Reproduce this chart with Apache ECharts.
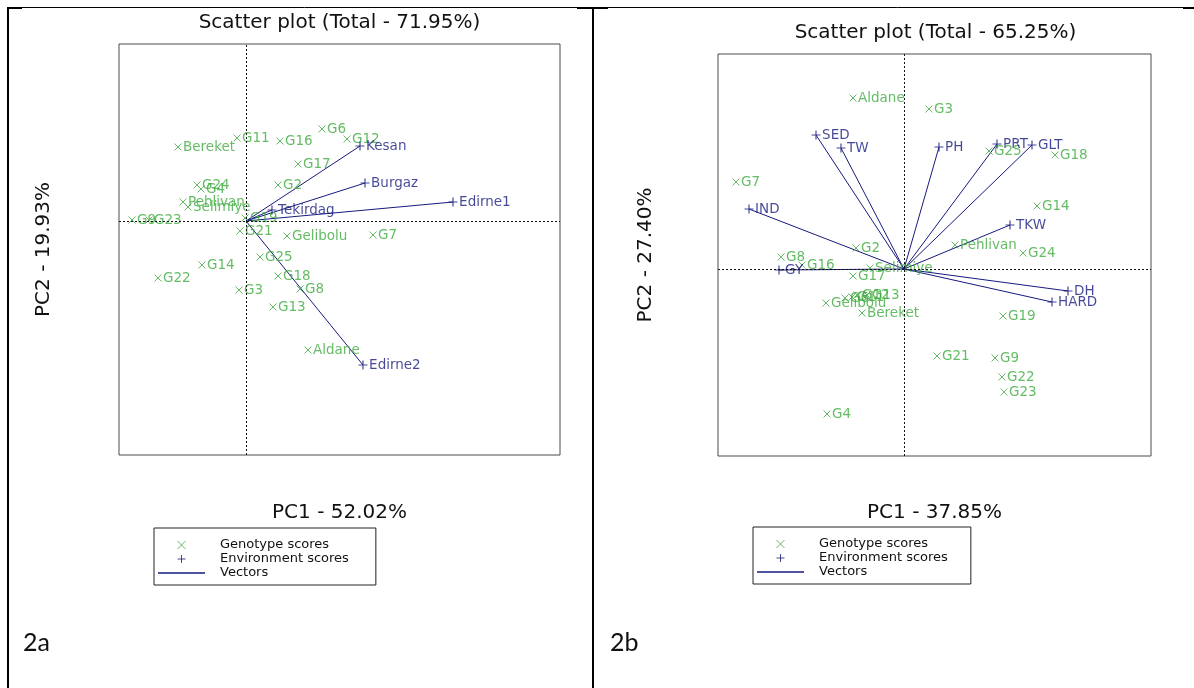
<!DOCTYPE html>
<html>
<head>
<meta charset="utf-8">
<style>
html,body{margin:0;padding:0;background:#fff;}
#chart{width:1194px;height:688px;}
</style>
<script src="https://cdn.jsdelivr.net/npm/echarts@6/dist/echarts.min.js"></script>
</head>
<body>
<div id="chart"></div>
<script>
// ---- Panel 2a data ----
var leftTitle = 'Scatter plot (Total - 71.95%)';
var leftXName = 'PC1 - 52.02%';
var leftYName = 'PC2 - 19.93%';
var leftGenoNames = ['Bereket','G11','G16','G6','G12','G17','G2','G24','G4','Pehlivan','Selimiye','G9','G23','G19','G21','Gelibolu','G7','G25','G14','G22','G18','G3','G8','G13','Aldane'];
var leftGenoX = [-0.68,-0.09,0.34,0.76,1.01,0.52,0.32,-0.49,-0.45,-0.63,-0.58,-1.14,-0.97,-0.01,-0.06,0.41,1.27,0.14,-0.44,-0.88,0.32,-0.07,0.54,0.27,0.62];
var leftGenoY = [0.74,0.83,0.80,0.92,0.82,0.57,0.36,0.36,0.32,0.19,0.14,0.01,0.01,0.03,-0.10,-0.15,-0.14,-0.36,-0.44,-0.57,-0.55,-0.69,-0.68,-0.86,-1.29];
var leftEnvNames = ['Kesan','Burgaz','Tekirdag','Edirne1','Edirne2'];
var leftEnvX = [1.14,1.19,0.26,2.07,1.17];
var leftEnvY = [0.75,0.38,0.11,0.19,-1.44];
var leftRange = [-1.27, 3.14, -2.34, 1.77];

// ---- Panel 2b data ----
var rightTitle = 'Scatter plot (Total - 65.25%)';
var rightXName = 'PC1 - 37.85%';
var rightYName = 'PC2 - 27.40%';
var rightGenoNames = ['Aldane','G3','G25','G18','G7','G14','Pehlivan','G2','G24','G8','G16','Selimiye','G17','Gelibolu','G6','G11','G12','G13','Bereket','G19','G21','G9','G22','G23','G4'];
var rightGenoX = [-0.51,0.25,0.85,1.51,-1.68,1.33,0.51,-0.48,1.19,-1.23,-1.02,-0.34,-0.51,-0.78,-0.59,-0.52,-0.47,-0.37,-0.42,0.99,0.33,0.91,0.98,1.00,-0.77];
var rightGenoY = [1.71,1.60,1.18,1.14,0.87,0.63,0.24,0.21,0.16,0.12,0.04,0.01,-0.07,-0.34,-0.29,-0.28,-0.26,-0.26,-0.44,-0.47,-0.87,-0.89,-1.08,-1.23,-1.45];
var rightEnvNames = ['SED','TW','PH','PRT','GLT','IND','TKW','GY','DH','HARD'];
var rightEnvX = [-0.88,-0.63,0.35,0.93,1.28,-1.55,1.06,-1.25,1.64,1.48];
var rightEnvY = [1.34,1.21,1.22,1.25,1.24,0.60,0.44,-0.01,-0.22,-0.33];
var rightRange = [-1.86, 2.47, -1.87, 2.15];

var legendNames = ['Genotype scores','Environment scores','Vectors'];
var panelLabels = ['2a','2b'];

// ---- styles ----
var GREEN = '#3fab3f';
var NAVY = '#161a7e';
var FONT = 'DejaVu Sans';
var X_PATH = 'path://M0,0L10,10M0,10L10,0';
var PLUS_PATH = 'path://M5,0L5,10M0,5L10,5';
var LINE_PATH = 'path://M0,0h47v1.3h-47z';

function pts(xs, ys, names){
  return xs.map(function(x,i){ return [x, ys[i], names[i]]; });
}
function vecs(xs, ys){
  return xs.map(function(x,i){ return {coords:[[0,0],[x, ys[i]]]}; });
}

function panelSeries(idx, gx, gy, gn, ex, ey, en){
  return [
    {
      name: legendNames[2], type: 'lines', coordinateSystem: 'cartesian2d',
      xAxisIndex: idx, yAxisIndex: idx, z: 2, silent: true,
      lineStyle: {color: NAVY, width: 1, opacity: 1},
      data: vecs(ex, ey)
    },
    {
      name: legendNames[0], type: 'scatter', xAxisIndex: idx, yAxisIndex: idx, z: 3,
      symbol: X_PATH, symbolSize: 7,
      itemStyle: {color: 'transparent', borderColor: GREEN, borderWidth: 1},
      label: {show: true, position: 'right', distance: 1, color: GREEN, fontFamily: FONT, fontSize: 13.5,
        formatter: function(p){ return p.data[2]; }},
      markLine: {
        silent: true, symbol: ['none','none'], label: {show: false},
        lineStyle: {color: '#111', type: [2,2], width: 1},
        data: [{xAxis: 0}, {yAxis: 0}]
      },
      data: pts(gx, gy, gn)
    },
    {
      name: legendNames[1], type: 'scatter', xAxisIndex: idx, yAxisIndex: idx, z: 4,
      symbol: PLUS_PATH, symbolSize: 9,
      itemStyle: {color: 'transparent', borderColor: NAVY, borderWidth: 1.2},
      label: {show: true, position: 'right', distance: 1, color: NAVY, fontFamily: FONT, fontSize: 13.5,
        formatter: function(p){ return p.data[2]; }},
      data: pts(ex, ey, en)
    }
  ];
}

function makeAxis(type, idx, range, name, gap){
  var a = {
    type: 'value', gridIndex: idx,
    min: type === 'x' ? range[0] : range[2],
    max: type === 'x' ? range[1] : range[3],
    name: name, nameLocation: 'middle', nameGap: gap,
    nameTextStyle: {fontFamily: FONT, fontSize: 20, color: '#111'},
    axisLine: {show: false}, axisTick: {show: false}, axisLabel: {show: false},
    splitLine: {show: false}
  };
  if (type === 'y') { a.nameRotate = 90; }
  return a;
}

function legendData(){
  return [
    {name: legendNames[0], icon: X_PATH, itemStyle: {color: 'none', borderColor: GREEN, borderWidth: 1}},
    {name: legendNames[1], icon: PLUS_PATH, itemStyle: {color: 'none', borderColor: NAVY, borderWidth: 1}},
    {name: legendNames[2], icon: LINE_PATH, itemStyle: {color: NAVY, borderWidth: 0}}
  ];
}
function makeLegend(left, top, padRight){
  return {
    orient: 'vertical', left: left, top: top,
    padding: [10, padRight, 5, 4],
    itemWidth: 47, itemHeight: 8, itemGap: 0,
    selectedMode: false,
    borderColor: '#222', borderWidth: 1,
    textStyle: {fontFamily: FONT, fontSize: 13, color: '#111', lineHeight: 14, padding: [0,0,0,10]},
    data: legendData()
  };
}

var chart = echarts.init(document.getElementById('chart'), null, {renderer: 'canvas'});
var option = {
  backgroundColor: '#fff',
  animation: false,
  title: [
    {text: leftTitle, left: 334.5, top: 8, textAlign: 'center',
      textStyle: {fontFamily: FONT, fontSize: 20, fontWeight: 'normal', color: '#111'}},
    {text: rightTitle, left: 930.5, top: 18, textAlign: 'center',
      textStyle: {fontFamily: FONT, fontSize: 20, fontWeight: 'normal', color: '#111'}}
  ],
  grid: [
    {left: 119, top: 44, width: 441, height: 411, show: true, borderColor: '#4a4a4a', borderWidth: 1, backgroundColor: 'transparent'},
    {left: 718, top: 54, width: 433, height: 402, show: true, borderColor: '#4a4a4a', borderWidth: 1, backgroundColor: 'transparent'}
  ],
  xAxis: [
    makeAxis('x', 0, leftRange, leftXName, 48),
    makeAxis('x', 1, rightRange, rightXName, 47)
  ],
  yAxis: [
    makeAxis('y', 0, leftRange, leftYName, 65),
    makeAxis('y', 1, rightRange, rightYName, 62)
  ],
  legend: [
    makeLegend(154, 528, 27),
    makeLegend(753, 527, 23)
  ],
  graphic: [
    {type: 'line', silent: true, shape: {x1: 8, y1: 7.5, x2: 1194, y2: 7.5}, style: {stroke: '#000', lineWidth: 1}},
    {type: 'rect', silent: true, shape: {x: 8, y: 7, width: 14, height: 2}, style: {fill: '#000'}},
    {type: 'rect', silent: true, shape: {x: 577, y: 7, width: 31, height: 2}, style: {fill: '#000'}},
    {type: 'rect', silent: true, shape: {x: 1183, y: 7, width: 11, height: 2}, style: {fill: '#000'}},
    {type: 'rect', silent: true, shape: {x: 7, y: 7, width: 2, height: 681}, style: {fill: '#000'}},
    {type: 'rect', silent: true, shape: {x: 592, y: 7, width: 2, height: 681}, style: {fill: '#000'}},
    {type: 'text', silent: true, x: 23, y: 630, style: {text: panelLabels[0], fontFamily: 'Lato', fontSize: 25, fill: '#111'}},
    {type: 'text', silent: true, x: 610, y: 630, style: {text: panelLabels[1], fontFamily: 'Lato', fontSize: 25, fill: '#111'}}
  ],
  series: [].concat(
    panelSeries(0, leftGenoX, leftGenoY, leftGenoNames, leftEnvX, leftEnvY, leftEnvNames),
    panelSeries(1, rightGenoX, rightGenoY, rightGenoNames, rightEnvX, rightEnvY, rightEnvNames)
  )
};
chart.setOption(option);
</script>
</body>
</html>
